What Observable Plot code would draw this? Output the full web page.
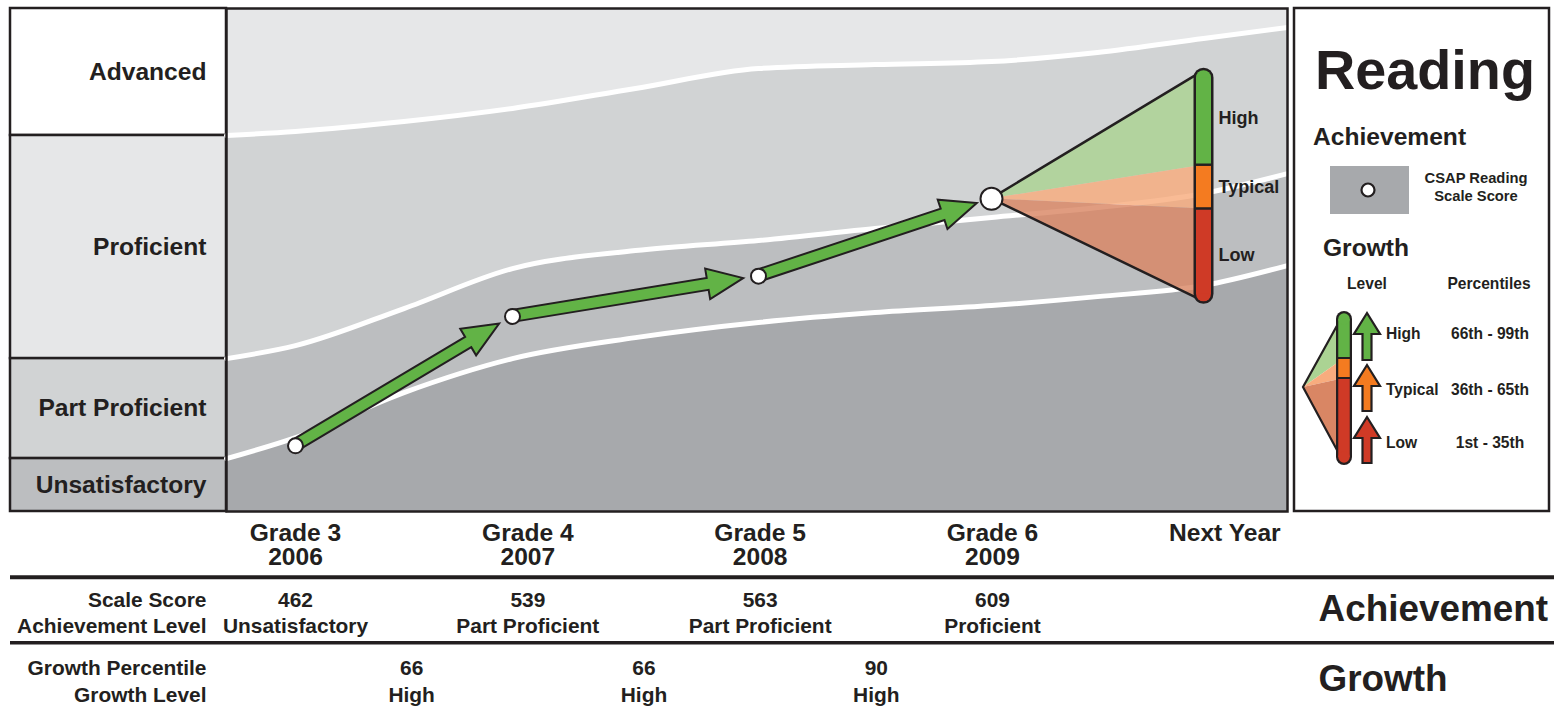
<!DOCTYPE html>
<html>
<head>
<meta charset="utf-8">
<script src="https://cdn.jsdelivr.net/npm/d3@7"></script>
<script src="https://cdn.jsdelivr.net/npm/@observablehq/plot@0.6"></script>
<style>
  html, body { margin: 0; padding: 0; background: #fff; }
  #root { position: relative; width: 1554px; height: 708px; overflow: hidden; background: #fff; }
  #root > svg { position: absolute; left: 0; max-width: none !important; }
</style>
</head>
<body>
<div id="root"></div>
<script>
// ---------------- DATA ----------------
const grades = ["Grade 3", "Grade 4", "Grade 5", "Grade 6", "Next Year"];
const years = ["2006", "2007", "2008", "2009"];
const scaleScores = [462, 539, 563, 609];
const achievementLevels = ["Unsatisfactory", "Part Proficient", "Part Proficient", "Proficient"];
const growthPercentiles = [66, 66, 90];
const growthLevels = ["High", "High", "High"];

const performanceLevels = ["Advanced", "Proficient", "Part Proficient", "Unsatisfactory"];
const scoreAxis = [422.9, 722.3];

// cut-score curves, sampled along the time axis (grade index)
const cutX = [-0.318, 0, 0.5, 1, 1.5, 2, 2.5, 3, 3.5, 4, 4.396];
const advancedCut = [646.7, 649.1, 655.0, 662.8, 674.7, 686.6, 688.9, 690.7, 696.1, 704.4, 711.0];
const proficientCut = [513.9, 521.6, 543.7, 567.5, 578.2, 584.2, 591.3, 597.9, 603.8, 612.2, 624.0];
const partProficientCut = [454.4, 466.9, 493.7, 513.9, 526.4, 535.4, 541.3, 545.5, 550.8, 557.4, 569.3];

// next-year growth projections
const growthBands = ["High", "Typical", "Low"];
const growthBandPercentiles = ["66th - 99th", "36th - 65th", "1st - 35th"];
const projectedTop = [685, 629, 603];
const projectedBottom = [629, 603, 548];

// ---------------- STYLE ----------------
const INK = "#231f20";
const levelFill = ["#ffffff", "#e6e7e8", "#d1d3d4", "#bcbec0"];
const zoneFill = ["#e6e7e8", "#d1d3d4", "#bcbec0", "#a7a9ac"];
const growthColor = {High: "#62b346", Typical: "#f47b20", Low: "#cf3a26"};
const fanFill = {High: "#abd393", Typical: "#f8ac7e", Low: "#d98664"};

const NARROW = (() => {
  const c = document.createElement("canvas").getContext("2d");
  c.font = "bold 40px monospace"; const a = c.measureText("Reading Proficient").width;
  c.font = "bold 40px 'Liberation Sans Narrow', monospace"; const b = c.measureText("Reading Proficient").width;
  return Math.abs(a - b) > 1;
})();
const FONT = NARROW ? "'Liberation Sans Narrow', 'Liberation Sans', Arial, sans-serif" : "'Liberation Sans', Arial, sans-serif";
const K = NARROW ? 1 : 0.82;
const F = {level: 30*K, head: 30*K, row: 25.5*K, big: 45*K, fan: 22*K, reading: 68*K,
           legHead: 30*K, legSmall: 18*K, legMid: 19*K, legRow: 19*K};

const root = document.getElementById("root");
const yMain = {type: "linear", domain: scoreAxis, range: [511, 8], axis: null};

// ---------------- LEFT LEVEL COLUMN ----------------
const levelTop = [scoreAxis[1], advancedCut[0], proficientCut[0], partProficientCut[0]];
const levelBottom = [advancedCut[0], proficientCut[0], partProficientCut[0], scoreAxis[0]];
const levelRows = performanceLevels.map((name, i) => ({name, top: levelTop[i], bottom: levelBottom[i], fill: levelFill[i]}));

const left = Plot.plot({
  width: 1554, height: 520,
  style: {background: "transparent", fontFamily: FONT},
  x: {type: "linear", domain: [0, 1], range: [10, 226], axis: null},
  y: yMain,
  color: {type: "identity"},
  marks: [
    Plot.rect(levelRows, {x1: 0, x2: 1, y1: "top", y2: "bottom", fill: "fill", stroke: INK, strokeWidth: 2.5}),
    Plot.text(levelRows, {x: 1, y: d => (d.top + d.bottom) / 2, text: "name", textAnchor: "end", dx: -20,
      fontSize: F.level, fontWeight: "bold", fill: INK})
  ]
});
left.style.top = "0px";
root.appendChild(left);

// ---------------- MAIN CHART ----------------
const curveRows = cutX.map((x, i) => ({x, adv: advancedCut[i], prof: proficientCut[i], part: partProficientCut[i]}));
const pts = scaleScores.map((s, i) => ({x: i, s}));
const fanRows = growthBands.flatMap((b, i) => [
  {band: b, x: 3, top: scaleScores[3], bottom: scaleScores[3]},
  {band: b, x: 4, top: projectedTop[i], bottom: projectedBottom[i]}
]);
const fanOutline = [
  {x: 3, top: scaleScores[3], bottom: scaleScores[3]},
  {x: 4, top: projectedTop[0], bottom: projectedBottom[2]}
];
const bars = growthBands.map((b, i) => ({band: b, x: 4, top: projectedTop[i], bottom: projectedBottom[i]}));

function trajectoryArrows(index, scales) {
  const X = scales.x, Y = scales.y;
  const g = d3.create("svg:g");
  for (let i = 0; i < scaleScores.length - 1; i++) {
    const x0 = X(i), y0 = Y(scaleScores[i]), x1 = X(i + 1), y1 = Y(scaleScores[i + 1]);
    const L = Math.hypot(x1 - x0, y1 - y0), ux = (x1 - x0) / L, uy = (y1 - y0) / L, nx = -uy, ny = ux;
    const tip = [x1 - ux * 15, y1 - uy * 15];
    const base = [tip[0] - ux * 36, tip[1] - uy * 36];
    const P = (p, k) => [p[0] + nx * k, p[1] + ny * k];
    const poly = [P([x0, y0], 6), P(base, 6), P(base, 15.5), tip, P(base, -15.5), P(base, -6), P([x0, y0], -6)];
    g.append("path")
      .attr("d", "M" + poly.map(p => p.map(v => v.toFixed(2)).join(",")).join("L") + "Z")
      .attr("fill", growthColor[growthLevels[i]]).attr("stroke", INK)
      .attr("stroke-width", 2).attr("stroke-linejoin", "miter");
  }
  return g.node();
}

const main = Plot.plot({
  width: 1554, height: 520,
  marginLeft: 226, marginRight: 267, marginTop: 8, marginBottom: 9,
  style: {background: "transparent", fontFamily: FONT},
  x: {type: "linear", domain: [0, 1, 2, 3, 4], range: [295, 512, 758, 991, 1203], axis: null},
  y: yMain,
  color: {type: "identity"},
  marks: [
    Plot.frame({fill: zoneFill[0]}),
    Plot.areaY(curveRows, {x: "x", y1: scoreAxis[0], y2: "adv", fill: zoneFill[1], curve: "monotone-x"}),
    Plot.areaY(curveRows, {x: "x", y1: scoreAxis[0], y2: "prof", fill: zoneFill[2], curve: "monotone-x"}),
    Plot.areaY(curveRows, {x: "x", y1: scoreAxis[0], y2: "part", fill: zoneFill[3], curve: "monotone-x"}),
    Plot.line(curveRows, {x: "x", y: "adv", stroke: "white", strokeWidth: 5, curve: "monotone-x"}),
    Plot.line(curveRows, {x: "x", y: "prof", stroke: "white", strokeWidth: 5, curve: "monotone-x"}),
    Plot.line(curveRows, {x: "x", y: "part", stroke: "white", strokeWidth: 5, curve: "monotone-x"}),
    // growth fan
    Plot.areaY(fanRows, {x: "x", y1: "bottom", y2: "top", z: "band", fill: d => fanFill[d.band], fillOpacity: 0.82}),
    Plot.areaY(fanOutline, {x: "x", y1: "bottom", y2: "top", fill: "none", stroke: INK, strokeWidth: 2.5, strokeLinejoin: "miter"}),
    // growth bar
    Plot.ruleX(fanOutline.slice(1), {x: "x", y1: "top", y2: "bottom", stroke: INK, strokeWidth: 20, strokeLinecap: "round", insetTop: 7, insetBottom: 7}),
    Plot.ruleX(bars.slice(0, 1), {x: "x", y1: "top", y2: "bottom", stroke: d => growthColor[d.band], strokeWidth: 15, strokeLinecap: "round", insetTop: 7, insetBottom: 30}),
    Plot.ruleX(bars.slice(2), {x: "x", y1: "top", y2: "bottom", stroke: d => growthColor[d.band], strokeWidth: 15, strokeLinecap: "round", insetTop: 30, insetBottom: 7}),
    Plot.ruleX(bars.slice(0, 1), {x: "x", y1: "top", y2: "bottom", stroke: d => growthColor[d.band], strokeWidth: 15, insetTop: 7, insetBottom: 1.2}),
    Plot.ruleX(bars.slice(1, 2), {x: "x", y1: "top", y2: "bottom", stroke: d => growthColor[d.band], strokeWidth: 15, insetTop: 1.2, insetBottom: 1.2}),
    Plot.ruleX(bars.slice(2), {x: "x", y1: "top", y2: "bottom", stroke: d => growthColor[d.band], strokeWidth: 15, insetTop: 1.2, insetBottom: 7}),
    Plot.text(bars, {x: "x", y: d => (d.top + d.bottom) / 2, text: "band", dx: 15, textAnchor: "start",
      fontSize: F.fan, fontWeight: "bold", fill: INK}),
    // trajectory
    trajectoryArrows,
    Plot.dot(pts.slice(0, 3), {x: "x", y: "s", r: 7.5, fill: "white", stroke: INK, strokeWidth: 2}),
    Plot.dot(pts.slice(3), {x: "x", y: "s", r: 11, fill: "white", stroke: INK, strokeWidth: 2}),
    Plot.frame({stroke: INK, strokeWidth: 2.5})
  ]
});
main.style.top = "0px";
root.appendChild(main);

// ---------------- TABLE ----------------
const headerRows = grades.map((g, i) => ({x: i, label: i < years.length ? g + "\n" + years[i] : g}));
const achRows = scaleScores.map((s, i) => ({x: i, label: s + "\n" + achievementLevels[i]}));
const groRows = growthPercentiles.map((p, i) => ({x: i + 0.5, label: p + "\n" + growthLevels[i]}));
const TH = 197, rowPx = TH / 3;
const base = (pageY, row) => pageY - 511 - row * rowPx;   // baseline offset inside a row

const table = Plot.plot({
  width: 1554, height: TH, marginLeft: 10, marginRight: 0, marginTop: 0, marginBottom: 0,
  style: {background: "transparent", fontFamily: FONT},
  x: {type: "linear", domain: [0, 4], range: [295, 1224.3], axis: null},
  y: {type: "linear", domain: [0, 3], range: [0, TH], axis: null},
  marks: [
    Plot.ruleY([1], {stroke: INK, strokeWidth: 4}),
    Plot.ruleY([2], {stroke: INK, strokeWidth: 3.5}),
    Plot.text(headerRows, {x: "x", y: 0, text: "label", lineAnchor: "top", dy: base(541, 0) - 0.71 * F.head,
      lineHeight: 24 / F.head, fontSize: F.head, fontWeight: "bold", fill: INK}),
    Plot.text(achRows, {x: "x", y: 1, text: "label", lineAnchor: "top", dy: base(603, 1) - 0.71 * F.row,
      lineHeight: 26 / F.row, fontSize: F.row, fontWeight: "bold", fill: INK}),
    Plot.text(groRows, {x: "x", y: 2, text: "label", lineAnchor: "top", dy: base(670, 2) - 0.71 * F.row,
      lineHeight: 27 / F.row, fontSize: F.row, fontWeight: "bold", fill: INK}),
    Plot.text(["Scale Score\nAchievement Level"], {y: 1, frameAnchor: "left", textAnchor: "end", dx: 196,
      lineAnchor: "top", dy: base(603, 1) - 0.71 * F.row, lineHeight: 26 / F.row,
      fontSize: F.row, fontWeight: "bold", fill: INK}),
    Plot.text(["Growth Percentile\nGrowth Level"], {y: 2, frameAnchor: "left", textAnchor: "end", dx: 196,
      lineAnchor: "top", dy: base(670, 2) - 0.71 * F.row, lineHeight: 27 / F.row,
      fontSize: F.row, fontWeight: "bold", fill: INK}),
    Plot.text(["Achievement"], {y: 1.5, frameAnchor: "right", textAnchor: "start", dx: -236, dy: -1,
      fontSize: F.big, fontWeight: "bold", fill: INK}),
    Plot.text(["Growth"], {y: 2.5, frameAnchor: "right", textAnchor: "start", dx: -236, dy: 4,
      fontSize: F.big, fontWeight: "bold", fill: INK})
  ]
});
table.style.top = "511px";
root.appendChild(table);

// ---------------- LEGEND (key) ----------------
const lg = d3.create("svg").attr("width", 1554).attr("height", 520)
  .style("top", "0px").style("font-family", FONT).style("font-weight", "bold");
const T = (x, y, s, size, anchor = "middle") => lg.append("text").attr("x", x).attr("y", y).attr("dy", "0.36em")
  .attr("text-anchor", anchor).attr("font-size", size).attr("fill", INK).text(s);
lg.append("rect").attr("x", 1294).attr("y", 8).attr("width", 255).attr("height", 503)
  .attr("fill", "#fff").attr("stroke", INK).attr("stroke-width", 2.5);
T(1425, 69, "Reading", F.reading);
T(1313, 136, "Achievement", F.legHead, "start");
lg.append("rect").attr("x", 1330).attr("y", 166).attr("width", 79).attr("height", 48).attr("fill", zoneFill[3]);
lg.append("circle").attr("cx", 1368).attr("cy", 190).attr("r", 6.5).attr("fill", "#fff").attr("stroke", INK).attr("stroke-width", 2.2);
T(1476, 178, "CSAP Reading", F.legSmall);
T(1476, 196, "Scale Score", F.legSmall);
T(1366, 247, "Growth", F.legHead);
T(1367, 283, "Level", F.legMid);
T(1489, 283, "Percentiles", F.legMid);
// mini fan
const apex = [1303, 387], bx = 1344, seg = [313, 358, 378, 463];
growthBands.forEach((b, i) => {
  lg.append("path").attr("d", `M${apex}L${bx},${seg[i]}L${bx},${seg[i + 1]}Z`).attr("fill", fanFill[b]);
});
lg.append("path").attr("d", `M${bx},${seg[0]}L${apex}L${bx},${seg[3]}`).attr("fill", "none").attr("stroke", INK).attr("stroke-width", 2.2);
lg.append("line").attr("x1", bx).attr("x2", bx).attr("y1", seg[0] + 6).attr("y2", seg[3] - 6)
  .attr("stroke", INK).attr("stroke-width", 16).attr("stroke-linecap", "round");
growthBands.forEach((b, i) => {
  lg.append("line").attr("x1", bx).attr("x2", bx).attr("y1", seg[i] + (i === 0 ? 6 : 1)).attr("y2", seg[i + 1] - (i === 2 ? 6 : 1))
    .attr("stroke", growthColor[b]).attr("stroke-width", 11.5);
});
lg.append("circle").attr("cx", bx).attr("cy", seg[0] + 6).attr("r", 5.75).attr("fill", growthColor.High);
lg.append("circle").attr("cx", bx).attr("cy", seg[3] - 6).attr("r", 5.75).attr("fill", growthColor.Low);
// level arrows and labels
const arrowRows = [[313, 334, 360], [365, 386, 411], [417, 438, 463]];
const rowY = [333, 389, 442];
growthBands.forEach((b, i) => {
  const [t, h, e] = arrowRows[i], cx = 1367;
  const poly = [[cx, t], [cx + 13, h], [cx + 4.5, h], [cx + 4.5, e], [cx - 4.5, e], [cx - 4.5, h], [cx - 13, h]];
  lg.append("path").attr("d", "M" + poly.map(p => p.join(",")).join("L") + "Z")
    .attr("fill", growthColor[b]).attr("stroke", INK).attr("stroke-width", 2.2).attr("stroke-linejoin", "miter");
  T(1386, rowY[i], b, F.legRow, "start");
  T(1490, rowY[i], growthBandPercentiles[i], F.legRow);
});
root.appendChild(lg.node());
</script>
</body>
</html>
